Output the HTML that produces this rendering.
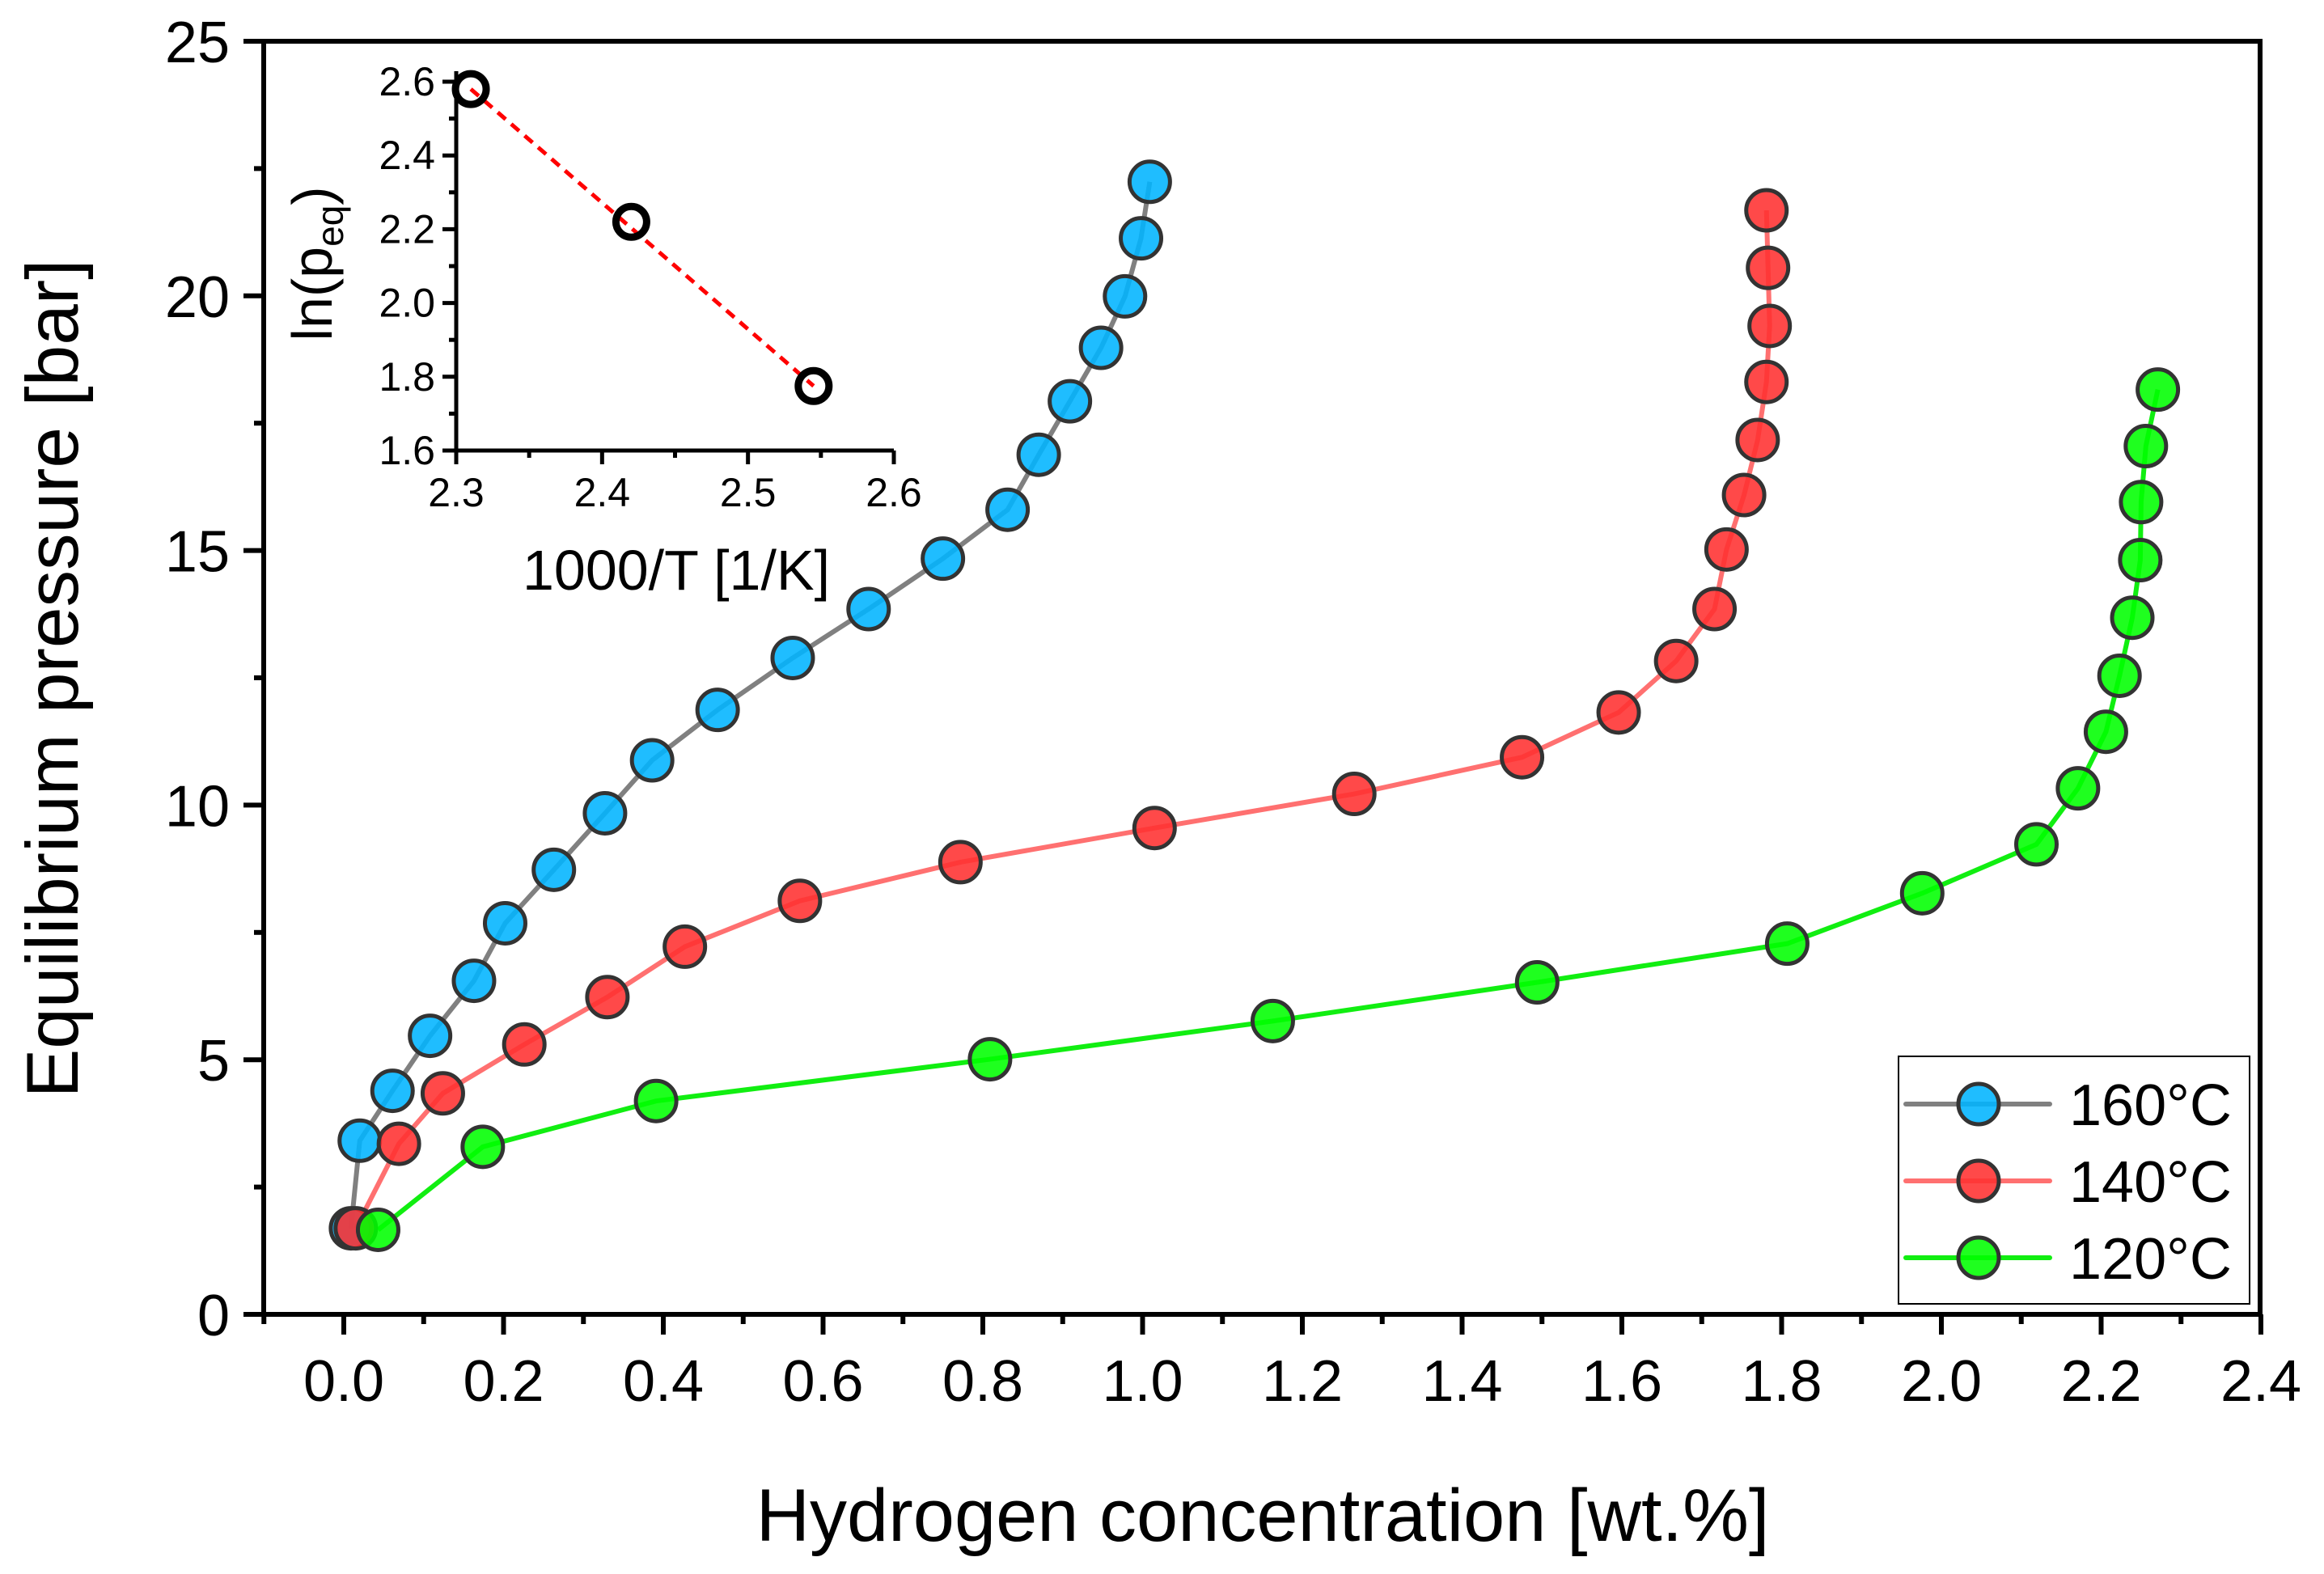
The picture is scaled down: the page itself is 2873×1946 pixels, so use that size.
<!DOCTYPE html>
<html><head><meta charset="utf-8"><style>
html,body{margin:0;padding:0;background:#fff;}
svg{display:block;font-family:"Liberation Sans",Arial,sans-serif;}
</style></head><body>
<svg id="chart" width="2873" height="1946" viewBox="0 0 2873 1946" xmlns="http://www.w3.org/2000/svg">
<g id="main"></g>
<g id="inset"></g>
</svg>
<script>
const x160=[0.009,0.020,0.061,0.108,0.163,0.202,0.263,0.327,0.386,0.468,0.562,0.657,0.750,0.831,0.870,0.909,0.948,0.978,0.998,1.009];
const y160=[1.69,3.41,4.39,5.47,6.55,7.68,8.73,9.84,10.88,11.87,12.89,13.85,14.84,15.80,16.88,17.93,18.98,19.99,21.13,22.24];
const x140=[0.015,0.069,0.124,0.226,0.330,0.427,0.571,0.772,1.015,1.265,1.475,1.596,1.668,1.716,1.731,1.753,1.770,1.781,1.785,1.783,1.781];
const y140=[1.69,3.35,4.34,5.30,6.23,7.22,8.12,8.88,9.55,10.22,10.94,11.82,12.83,13.85,15.02,16.09,17.17,18.31,19.41,20.55,21.68];
const x120=[0.043,0.174,0.391,0.809,1.163,1.494,1.807,1.976,2.119,2.171,2.206,2.223,2.239,2.249,2.250,2.256,2.271];
const y120=[1.66,3.29,4.19,5.01,5.76,6.52,7.28,8.27,9.23,10.33,11.44,12.54,13.68,14.81,15.95,17.05,18.16];
const xTicks=["0.0","0.2","0.4","0.6","0.8","1.0","1.2","1.4","1.6","1.8","2.0","2.2","2.4"];
const yTicks=["0","5","10","15","20","25"];
const insetX=[2.31,2.42,2.545];
const insetY=[2.58,2.22,1.775];
const insetXTicks=["2.3","2.4","2.5","2.6"];
const insetYTicks=["1.6","1.8","2.0","2.2","2.4","2.6"];

const NS="http://www.w3.org/2000/svg";
function mk(parent,tag,attrs,text){const e=document.createElementNS(NS,tag);for(const k in attrs)e.setAttribute(k,attrs[k]);if(text!==undefined)e.textContent=text;parent.appendChild(e);return e;}
const main=document.getElementById('main');
const sx=v=>425+v*987.5;
const sy=v=>1625-v*62.96;
let fr=mk(main,'rect',{x:326,y:51,width:2794-326,height:1625-51,fill:'none',stroke:'#000','stroke-width':6});


for(let i=0;i<xTicks.length;i++){const v=parseFloat(xTicks[i]);const X=sx(v);
 let t=mk(main,'line',{x1:X,y1:1625,x2:X,y2:1650,stroke:'#000','stroke-width':6});
 
 let l=mk(main,'text',{x:X,y:1732,'font-size':72,'text-anchor':'middle'},xTicks[i]);
 
 if(i<xTicks.length-1){let m=mk(main,'line',{x1:X+98.75,y1:1625,x2:X+98.75,y2:1637,stroke:'#000','stroke-width':6});
 }
}
let mm=mk(main,'line',{x1:sx(-0.1),y1:1625,x2:sx(-0.1),y2:1637,stroke:'#000','stroke-width':6});

for(let i=0;i<yTicks.length;i++){const v=parseFloat(yTicks[i]);const Y=sy(v);
 let t=mk(main,'line',{x1:326,y1:Y,x2:301,y2:Y,stroke:'#000','stroke-width':6});
 
 let l=mk(main,'text',{x:284,y:Y+26,'font-size':72,'text-anchor':'end'},yTicks[i]);
 
 if(i<yTicks.length-1){let m=mk(main,'line',{x1:326,y1:sy(v+2.5),x2:314,y2:sy(v+2.5),stroke:'#000','stroke-width':6});
 }
}
let xt=mk(main,'text',{x:1561,y:1905,'font-size':92,'text-anchor':'middle'},'Hydrogen concentration [wt.%]');

let yt=mk(main,'text',{x:0,y:0,'font-size':91,'text-anchor':'middle',transform:'translate(96,839) rotate(-90)'},'Equilibrium pressure [bar]');


const series=[
 {xs:x160,ys:y160,line:'#808080',fill:'#00b4ff',name:'160'},
 {xs:x140,ys:y140,line:'#ff7070',fill:'#ff3030',name:'140'},
 {xs:x120,ys:y120,line:'#11ee11',fill:'#00ff00',name:'120'}];
for(const s of series){
 const pts=s.xs.map((x,i)=>sx(x)+','+sy(s.ys[i])).join(' ');
 let pl=mk(main,'polyline',{points:pts,fill:'none',stroke:s.line,'stroke-width':6});
 
}
for(const s of series){
 for(let i=0;i<s.xs.length;i++){
  let c=mk(main,'circle',{cx:sx(s.xs[i]),cy:sy(s.ys[i]),r:25,fill:s.fill,'fill-opacity':0.88,stroke:'#333','stroke-width':5});
  
 }
}
const lg=mk(main,'g',{});

let lb=mk(lg,'rect',{x:2347,y:1306,width:434,height:306,fill:'#fff',stroke:'#000','stroke-width':2});

const legY=[1365,1460,1555];
series.forEach((s,i)=>{
 const g=mk(lg,'g',{});
 
 mk(g,'line',{x1:2356,y1:legY[i],x2:2534,y2:legY[i],stroke:s.line,'stroke-width':6,'stroke-linecap':'round'});
 mk(g,'circle',{cx:2446,cy:legY[i],r:25,fill:s.fill,'fill-opacity':0.88,stroke:'#333','stroke-width':5});
 mk(g,'text',{x:2558,y:legY[i]+26,'font-size':72},s.name+'\u00B0C');
});

const ins=document.getElementById('inset');
const ix=v=>564+(v-2.3)/0.3*541;
const iy=v=>557-(v-1.6)*456;
let ia=mk(ins,'path',{d:'M564,88 L564,557 L1105,557',fill:'none',stroke:'#000','stroke-width':5});

for(let i=0;i<insetXTicks.length;i++){const v=parseFloat(insetXTicks[i]);const X=ix(v);
 let t=mk(ins,'line',{x1:X,y1:557,x2:X,y2:574,stroke:'#000','stroke-width':5});
 
 let l=mk(ins,'text',{x:X,y:626,'font-size':50,'text-anchor':'middle'},insetXTicks[i]);
 
 if(i<insetXTicks.length-1){let m=mk(ins,'line',{x1:ix(v+0.05),y1:557,x2:ix(v+0.05),y2:566,stroke:'#000','stroke-width':5});
 }
}
for(let i=0;i<insetYTicks.length;i++){const v=parseFloat(insetYTicks[i]);const Y=iy(v);
 let t=mk(ins,'line',{x1:564,y1:Y,x2:547,y2:Y,stroke:'#000','stroke-width':5});
 
 let l=mk(ins,'text',{x:538,y:Y+17,'font-size':50,'text-anchor':'end'},insetYTicks[i]);
 
 if(i<insetYTicks.length-1){let m=mk(ins,'line',{x1:564,y1:iy(v+0.1),x2:555,y2:iy(v+0.1),stroke:'#000','stroke-width':5});
 }
}
let ixt=mk(ins,'text',{x:836,y:729,'font-size':70,'text-anchor':'middle'},'1000/T [1/K]');

let iyt=mk(ins,'text',{x:0,y:0,'font-size':70,'text-anchor':'middle',transform:'translate(410,326) rotate(-90)'});

iyt.appendChild(document.createTextNode('ln(p'));
mk(iyt,'tspan',{'font-size':46,dy:14},'eq');
mk(iyt,'tspan',{dy:-14},')');
const n=insetX.length-1;
let fit=mk(ins,'line',{x1:ix(insetX[0]),y1:iy(insetY[0]),x2:ix(insetX[n]),y2:iy(insetY[n]),stroke:'#ff0000','stroke-width':5,'stroke-dasharray':'13,9'});

for(let i=0;i<insetX.length;i++){
 let c=mk(ins,'circle',{cx:ix(insetX[i]),cy:iy(insetY[i]),r:19,fill:'none',stroke:'#000','stroke-width':9});
 
}
</script>
</body></html>
